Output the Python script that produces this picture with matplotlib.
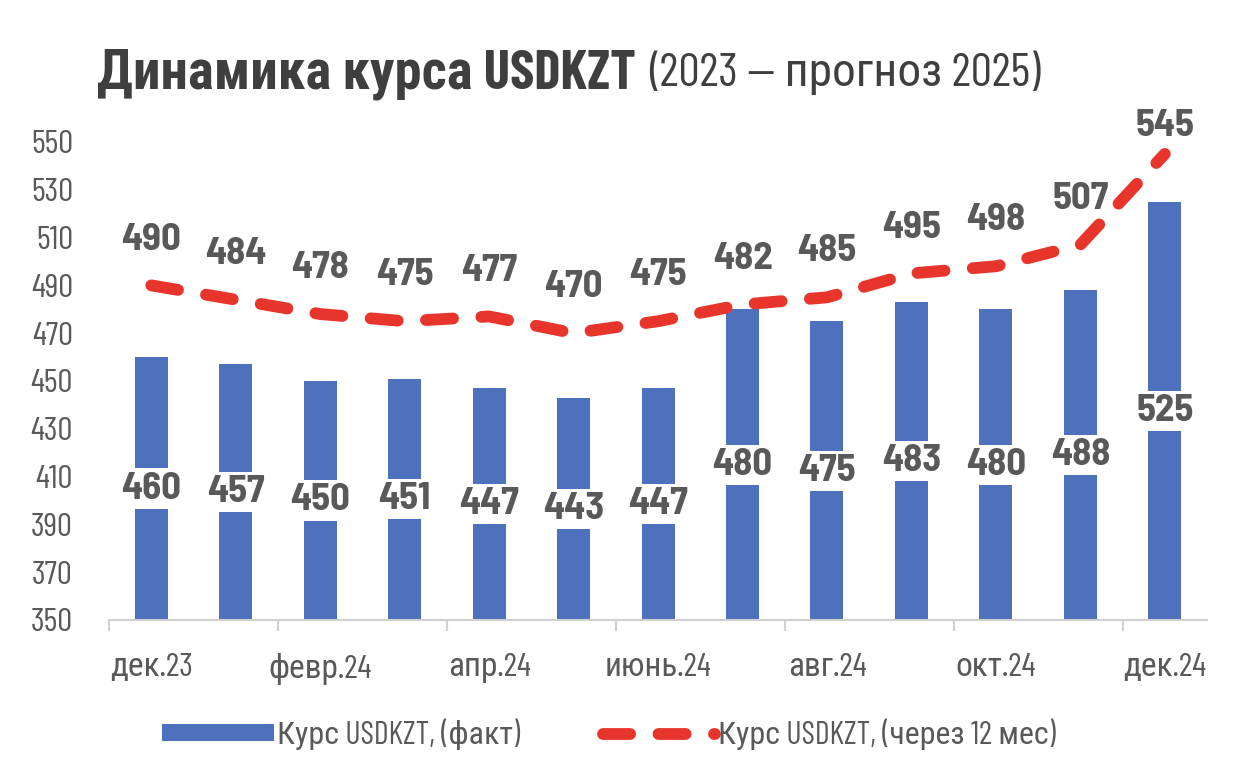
import numpy as np
import matplotlib
matplotlib.use('Agg')
from matplotlib import pyplot as plt

# data
months = ['дек.23', 'янв.24', 'февр.24', 'мар.24', 'апр.24', 'май.24', 'июнь.24',
          'июль.24', 'авг.24', 'сент.24', 'окт.24', 'нояб.24', 'дек.24']
fact = [460, 457, 450, 451, 447, 443, 447, 480, 475, 483, 480, 488, 525]
forecast = [490, 484, 478, 475, 477, 470, 475, 482, 485, 495, 498, 507, 545]
yticks = list(range(350, 551, 20))

COND = ['Barlow Condensed', 'Roboto Condensed', 'Liberation Sans Narrow', 'DejaVu Sans']
SEMI = ['Barlow Semi Condensed', 'Barlow Condensed', 'Roboto Condensed', 'DejaVu Sans']
plt.rcParams['font.family'] = COND

BLUE = '#4E71BE'
RED = '#E8352B'
GREY = '#595959'

fig = plt.figure(figsize=(12.45, 7.72), dpi=100)
ax = fig.add_axes([0.0876, 0.1969, 0.9695 - 0.0876, 0.8161 - 0.1969])

x = np.arange(len(months))
bars = ax.bar(x, [v - 350 for v in fact], bottom=350, width=0.39, color=BLUE,
              zorder=2, label='Курс USDKZT, (факт)')
line, = ax.plot(x, forecast, color=RED, lw=8.5, dashes=(2.3, 2.4),
                dash_capstyle='round', solid_capstyle='round', zorder=3,
                label='Курс USDKZT, (через 12 мес)')

#labels inside bars on white boxes
for i, v in enumerate(fact):
    ax.text(i, (350 + v) / 2, str(v), ha='center', va='center', fontsize=28,
            fontweight='bold', color=GREY, family=SEMI, zorder=4,
            bbox=dict(boxstyle='square,pad=0.08', fc='white', ec='none'))

#labels above the forecast line
for i, v in enumerate(forecast):
    off = 33 if v < 530 else 20
    ax.annotate(str(v), (i, v), xytext=(0, off), textcoords='offset points',
                ha='center', va='center', fontsize=28, fontweight='bold',
                color=GREY, family=SEMI, zorder=4, annotation_clip=False)

ax.set_xlim(-0.5, len(months) - 0.5)
ax.set_ylim(350, 550)
ax.set_yticks(yticks)
ax.tick_params(axis='y', length=0, pad=26, labelsize=24, labelcolor=GREY)

ax.set_xticks(np.arange(-0.5, len(months) - 1, 2))
ax.set_xticklabels([])
ax.set_xticks(x[::2], minor=True)
ax.set_xticklabels(months[::2], minor=True)
ax.tick_params(axis='x', which='major', length=8, width=1.5, color='#D0D0D0')
ax.tick_params(axis='x', which='minor', length=0, pad=24, labelsize=24,
               labelcolor=GREY)

for s in ['top', 'right', 'left']:
    ax.spines[s].set_visible(False)
ax.spines['bottom'].set_color('#D0D0D0')
ax.spines['bottom'].set_linewidth(1.5)

title = fig.text(97 / 1245, 1 - 89 / 772, 'Динамика курса USDKZT', fontsize=39.5,
                 fontweight='bold', color='#3F3F3F', va='baseline', ha='left')
fig.canvas.draw()
tx1 = title.get_window_extent().x1
fig.text((tx1 + 13) / 1245, 1 - 86 / 772, '(2023 — прогноз 2025)', fontsize=34,
         color='#3F3F3F', va='baseline', ha='left')

fig.legend([bars, line], [bars.get_label(), line.get_label()], loc='center',
           bbox_to_anchor=(0.489, 1 - 735 / 772), ncol=2, frameon=False,
           fontsize=23, labelcolor=GREY, handlelength=3.5, handleheight=0.45,
           handletextpad=0.1, columnspacing=2.6)

fig.savefig('out.png', dpi=100)
